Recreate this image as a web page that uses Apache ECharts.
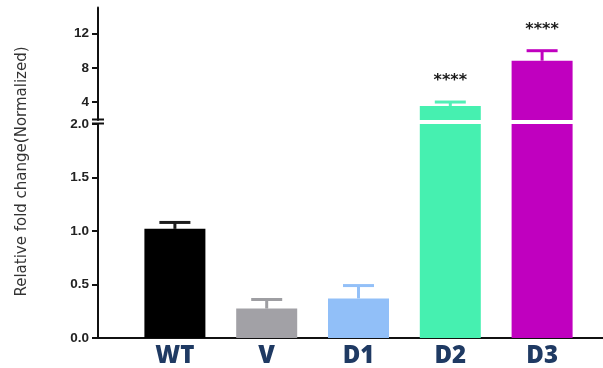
<!DOCTYPE html>
<html>
<head>
<meta charset="utf-8">
<script src="https://cdn.jsdelivr.net/npm/echarts@6/dist/echarts.min.js"></script>
<style>
  html, body { margin: 0; padding: 0; background: #fff; }
  #chart { width: 603px; height: 368px; }
</style>
</head>
<body>
<div id="chart"></div>
<script>
// Group names, mean fold change and upper error (SD) per group
const groups = ['WT', 'V', 'D1', 'D2', 'D3'];
const means = [1.02, 0.275, 0.37, 3.54, 8.83];
const errors = [0.06, 0.085, 0.12, 0.46, 1.17];
const significance = ['', '', '', '****', '****'];
const barColors = ['#000000', '#a2a1a6', '#91bff8', '#46f0b0', '#c000bf'];
const errColors = ['#1c1c1c', '#9e9ea2', '#93c0f8', '#52efb6', '#c000bf'];

// Broken y axis: lower segment 0-2, upper segment from the break up
const lowerTicks = [0, 0.5, 1.0, 1.5, 2.0];
const upperTicks = [4, 8, 12];
const lowerMax = 2;
const upperMin = 1.9;
const upperMax = 15.05;

// Layout
const GRID_LEFT = 129;
const GRID_RIGHT = 15;
const AXIS_OFFSET = 31;
const UPPER_TOP = 7.5, UPPER_HEIGHT = 112.5;
const LOWER_TOP = 124, LOWER_HEIGHT = 214;

const chart = echarts.init(document.getElementById('chart'));

const tickFont = { fontFamily: 'Liberation Sans', fontSize: 13.5, fontWeight: 'bold', color: '#222' };

function errorItem(params, api, withStars) {
  const idx = api.value(0);
  const mean = api.value(1);
  const err = api.value(2);
  const base = api.coord([idx, mean]);
  const top = api.coord([idx, mean + err]);
  const color = errColors[idx];
  const half = 15.5;
  const children = [
    { type: 'line', shape: { x1: top[0], y1: base[1], x2: top[0], y2: top[1] },
      style: { stroke: color, lineWidth: 3 } },
    { type: 'line', shape: { x1: top[0] - half, y1: top[1], x2: top[0] + half, y2: top[1] },
      style: { stroke: color, lineWidth: 3 } }
  ];
  if (withStars && significance[idx]) {
    children.push({
      type: 'text',
      style: {
        x: top[0], y: top[1] - 21, text: significance[idx],
        align: 'center', verticalAlign: 'middle',
        font: 'bold 16px "DejaVu Sans"', fill: '#1a1a1a'
      }
    });
  }
  return { type: 'group', children: children };
}

const lowerErrData = [], upperErrData = [];
groups.forEach((g, i) => {
  const item = [i, means[i], errors[i]];
  if (means[i] + errors[i] <= lowerMax) lowerErrData.push(item); else upperErrData.push(item);
});

const option = {
  animation: false,
  grid: [
    { left: GRID_LEFT, right: GRID_RIGHT, top: UPPER_TOP, height: UPPER_HEIGHT },
    { left: GRID_LEFT, right: GRID_RIGHT, top: LOWER_TOP, height: LOWER_HEIGHT }
  ],
  xAxis: [
    { type: 'category', gridIndex: 0, data: groups, show: false },
    {
      type: 'category', gridIndex: 1, data: groups,
      axisLine: { show: false }, axisTick: { show: false },
      axisLabel: { margin: 6, fontFamily: 'Open Sans', fontWeight: 800, fontSize: 24, color: '#1f3a63' }
    }
  ],
  yAxis: [
    {
      type: 'value', gridIndex: 0, min: upperMin, max: upperMax, offset: AXIS_OFFSET,
      splitLine: { show: false },
      axisLine: { show: true, lineStyle: { color: '#111', width: 2 } },
      axisTick: { show: true, length: 6, customValues: upperTicks, lineStyle: { color: '#111', width: 2 } },
      axisLabel: Object.assign({ margin: 9, customValues: upperTicks }, tickFont)
    },
    {
      type: 'value', gridIndex: 1, min: 0, max: lowerMax, interval: 0.5, offset: AXIS_OFFSET,
      splitLine: { show: false },
      axisLine: { show: true, lineStyle: { color: '#111', width: 2 } },
      axisTick: { show: true, length: 6, lineStyle: { color: '#111', width: 2 } },
      axisLabel: Object.assign({ margin: 9, formatter: v => v.toFixed(1) }, tickFont)
    }
  ],
  series: [
    {
      type: 'bar', xAxisIndex: 0, yAxisIndex: 0, barWidth: 61,
      data: means.map((v, i) => ({ value: v > lowerMax ? v : '-', itemStyle: { color: barColors[i] } }))
    },
    {
      type: 'bar', xAxisIndex: 1, yAxisIndex: 1, barWidth: 61,
      data: means.map((v, i) => ({ value: v, itemStyle: { color: barColors[i] } }))
    },
    {
      type: 'custom', xAxisIndex: 1, yAxisIndex: 1, data: lowerErrData,
      renderItem: (p, api) => errorItem(p, api, false)
    },
    {
      type: 'custom', xAxisIndex: 0, yAxisIndex: 0, data: upperErrData,
      renderItem: (p, api) => errorItem(p, api, true)
    }
  ]
};
chart.setOption(option);

// Axis decorations: baseline across the plot, break marks and the y-axis title
const axisX = GRID_LEFT - AXIS_OFFSET;
const zeroY = chart.convertToPixel({ xAxisIndex: 1, yAxisIndex: 1 }, [0, 0])[1];
const breakLowY = chart.convertToPixel({ xAxisIndex: 1, yAxisIndex: 1 }, [0, lowerMax])[1];
const breakHighY = chart.convertToPixel({ xAxisIndex: 0, yAxisIndex: 0 }, [0, upperMin])[1];
chart.setOption({
  graphic: [
    { type: 'line', shape: { x1: axisX - 1, y1: zeroY, x2: 603, y2: zeroY }, style: { stroke: '#111', lineWidth: 2 } },
    { type: 'line', shape: { x1: axisX - 6, y1: breakHighY - 0.5, x2: axisX + 6, y2: breakHighY - 0.5 }, style: { stroke: '#111', lineWidth: 2 } },
    { type: 'line', shape: { x1: axisX - 6, y1: breakLowY - 0.5, x2: axisX + 6, y2: breakLowY - 0.5 }, style: { stroke: '#111', lineWidth: 2 } },
    {
      type: 'text', x: 22, y: 171.5, rotation: Math.PI / 2,
      style: {
        text: 'Relative fold change(Normalized)', align: 'center', verticalAlign: 'middle',
        font: '15px "DejaVu Sans"', fill: '#333'
      }
    }
  ]
});
</script>
</body>
</html>
